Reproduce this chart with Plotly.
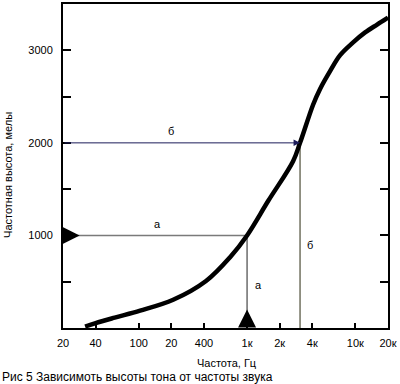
import numpy as np
import plotly.graph_objects as go

# Curve data
freq = [32, 40, 60, 103, 208, 418, 697, 1000, 1570, 2660, 3084, 4070, 4720, 5840, 7230, 9530, 12300, 15860, 20000]
mel = [16, 53, 112, 187, 305, 508, 765, 1000, 1374, 1802, 2000, 2412, 2583, 2775, 2947, 3085, 3193, 3278, 3353]

# Tick labels
x_tickvals = [20, 40, 100, 200, 400, 1000, 2000, 4000, 10000, 20000]
x_ticktext = ["20", "40", "100", "20", "400", "1к", "2к", "4к", "10к", "20к"]
y_tickvals = [500, 1000, 1500, 2000, 2500, 3000]
y_ticktext = ["", "1000", "", "2000", "", "3000"]

# Marked examples: а (1000 Hz -> 1000 mel), б (~3084 Hz -> 2000 mel)
mark_freq = [1000, 3084]
mark_mel = [1000, 2000]
mark_label = ["а", "б"]

FONT = "Liberation Sans"

fig = go.Figure()

# guide lines
fig.add_trace(go.Scatter(x=[20, mark_freq[0]], y=[mark_mel[0], mark_mel[0]], mode="lines",
                         line=dict(color="#7a7a7a", width=1.6), hoverinfo="skip", showlegend=False))
fig.add_trace(go.Scatter(x=[mark_freq[0], mark_freq[0]], y=[0, mark_mel[0]], mode="lines",
                         line=dict(color="#222222", width=1), hoverinfo="skip", showlegend=False))
fig.add_trace(go.Scatter(x=[mark_freq[1], mark_freq[1]], y=[0, mark_mel[1]], mode="lines",
                         line=dict(color="#2a2a10", width=1), hoverinfo="skip", showlegend=False))

# main curve
fig.add_trace(go.Scatter(x=freq, y=mel, mode="lines",
                         line=dict(color="black", width=4.5, shape="spline", smoothing=1.0),
                         hoverinfo="skip", showlegend=False))

annotations = []
# б horizontal arrow from left axis to curve
annotations.append(dict(x=np.log10(mark_freq[1]), y=mark_mel[1], xref="x", yref="y",
                        ax=np.log10(20), ay=mark_mel[1], axref="x", ayref="y",
                        showarrow=True, arrowhead=2, arrowsize=1.3, arrowwidth=1,
                        arrowcolor="#1c1c5a", text=""))
# thick black arrow at left, on 1000 mel line
annotations.append(dict(x=np.log10(28.5), y=mark_mel[0], xref="x", yref="y",
                        ax=-18, ay=0, showarrow=True, arrowhead=2, arrowsize=0.9,
                        arrowwidth=4, arrowcolor="black", text=""))
# thick black arrow at bottom, at 1000 Hz
annotations.append(dict(x=np.log10(mark_freq[0]), y=200, xref="x", yref="y",
                        ax=0, ay=19, showarrow=True, arrowhead=2, arrowsize=0.9,
                        arrowwidth=4, arrowcolor="black", text=""))

# letters
letter_font = dict(family=FONT, size=11, color="black")
annotations += [
    dict(x=np.log10(148), y=1128, xref="x", yref="y", text=mark_label[0], showarrow=False, font=letter_font),
    dict(x=np.log10(1265), y=465, xref="x", yref="y", text=mark_label[0], showarrow=False, font=letter_font),
    dict(x=np.log10(200), y=2123, xref="x", yref="y", text=mark_label[1], showarrow=False, font=letter_font),
    dict(x=np.log10(3820), y=893, xref="x", yref="y", text=mark_label[1], showarrow=False, font=letter_font),
]

# titles & caption
annotations += [
    dict(x=(8 - 63) / 325, y=(328 - 174) / 326, xref="paper", yref="paper", text="Частотная высота, мелы",
         textangle=-90, showarrow=False, xanchor="center", yanchor="middle",
         font=dict(family=FONT, size=11, color="black")),
    dict(x=(227 - 63) / 325, y=(328 - 363) / 326, xref="paper", yref="paper", text="Частота, Гц",
         showarrow=False, xanchor="center", yanchor="middle",
         font=dict(family=FONT, size=11, color="black")),
    dict(x=(0 - 63) / 325, y=(328 - 377) / 326, xref="paper", yref="paper",
         text="Рис 5 Зависимоть высоты тона от частоты звука",
         showarrow=False, xanchor="left", yanchor="middle",
         font=dict(family=FONT, size=12, color="black")),
]

fig.update_layout(
    width=400, height=384,
    margin=dict(l=63, r=12, t=2, b=56),
    paper_bgcolor="white", plot_bgcolor="white",
    showlegend=False,
    annotations=annotations,
    xaxis=dict(type="log", range=[np.log10(20), np.log10(20000)],
               tickvals=x_tickvals, ticktext=x_ticktext,
               ticks="inside", ticklen=5, tickwidth=1.5, tickcolor="black",
               showline=True, linecolor="black", linewidth=1.5, mirror=True,
               showgrid=False, zeroline=False, ticklabelstandoff=4,
               tickfont=dict(family=FONT, size=11, color="black")),
    yaxis=dict(range=[0, 3500], tickvals=y_tickvals, ticktext=y_ticktext,
               ticks="inside", ticklen=8, tickwidth=1.5, tickcolor="black",
               showline=True, linecolor="black", linewidth=2, mirror="ticks",
               showgrid=False, zeroline=False, ticklabelstandoff=6,
               tickfont=dict(family=FONT, size=11, color="black")),
)

fig.write_html("out.html", config={"displayModeBar": False},
               post_script="document.body.style.margin='0';document.body.style.overflow='hidden';")
